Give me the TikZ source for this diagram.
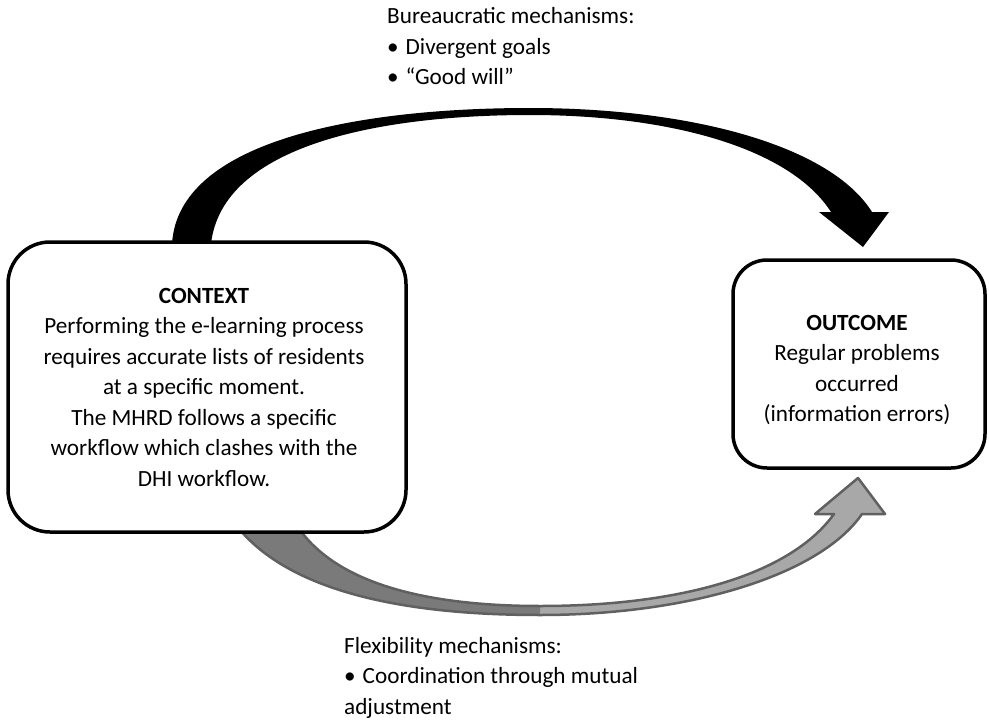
\documentclass[tikz,border=0pt]{standalone}
\usepackage{fontspec}
\setmainfont{Carlito}
\usetikzlibrary{positioning,backgrounds}
\definecolor{darkgrey}{HTML}{7A7A7A}
\definecolor{lightgrey}{HTML}{A8A8A8}
\definecolor{edgegrey}{HTML}{606060}
\tikzset{
  roundbox/.style={draw, line width=3.5pt, fill=white, inner sep=0pt},
  boxtext/.style={align=center, inner sep=0pt, font=\fontsize{23.2}{30.5}\selectfont},
  mechtext/.style={align=left, anchor=north west, inner sep=0pt, font=\fontsize{23.2}{30.5}\selectfont}
}
\begin{document}
\begin{tikzpicture}[x=1pt,y=-1pt]
  \useasboundingbox (0,0) rectangle (989,720);

  \node (ctx) [roundbox, rounded corners=42pt, minimum width=398pt, minimum height=290pt] at (207,387) {};
  \node (out) [roundbox, rounded corners=34pt, minimum width=252pt, minimum height=208pt] at (859,364) {};

  \node (ctxtext) [boxtext] at ([xshift=-3pt]ctx.center)
    {\textbf{CONTEXT}\\Performing the e-learning process\\requires accurate lists of residents\\at a specific moment.\\The MHRD follows a specific\\workflow which clashes with the\\DHI workflow.};
  \node (outtext) [boxtext] at ([xshift=-2pt,yshift=-6pt]out.center)
    {\textbf{OUTCOME}\\Regular problems\\occurred\\(information errors)};

  \node (bur) [mechtext] at (387,7.5)
    {Bureaucratic mechanisms:\\\textbullet\hspace{0.3em}Divergent goals\\\textbullet\hspace{0.3em}“Good will”};
  \node (flex) [mechtext] at (344,637)
    {Flexibility mechanisms:\\\textbullet\hspace{0.3em}Coordination through mutual\\adjustment};

  \begin{pgfonlayer}{background}
    \fill (172,244) .. controls (178,140) and (360,108) .. (530,108)
      .. controls (690,108) and (830,145) .. (872,212)
      -- (889,212) -- (863,247) -- (819,212) -- (831,212)
      .. controls (790,148) and (670,115) .. (530,115)
      .. controls (380,115) and (222,145) .. (211,244) -- cycle;

    \fill[lightgrey]
      (540,615) .. controls (690,615) and (820,575) .. (862,514)
      -- (885,514) -- (858,478) -- (815,514) -- (834,514)
      .. controls (790,575) and (680,606) .. (540,606) -- cycle;
    \fill[darkgrey]
      (240,530) .. controls (300,600) and (430,615) .. (540,615)
      -- (540,606) .. controls (430,606) and (340,585) .. (300,530) -- cycle;
    \draw[edgegrey, line width=2.5pt, line join=round]
      (240,530) .. controls (300,600) and (430,615) .. (540,615)
      .. controls (690,615) and (820,575) .. (862,514)
      -- (885,514) -- (858,478) -- (815,514) -- (834,514)
      .. controls (790,575) and (680,606) .. (540,606)
      .. controls (430,606) and (340,585) .. (300,530) -- cycle;
  \end{pgfonlayer}
\end{tikzpicture}
\end{document}
